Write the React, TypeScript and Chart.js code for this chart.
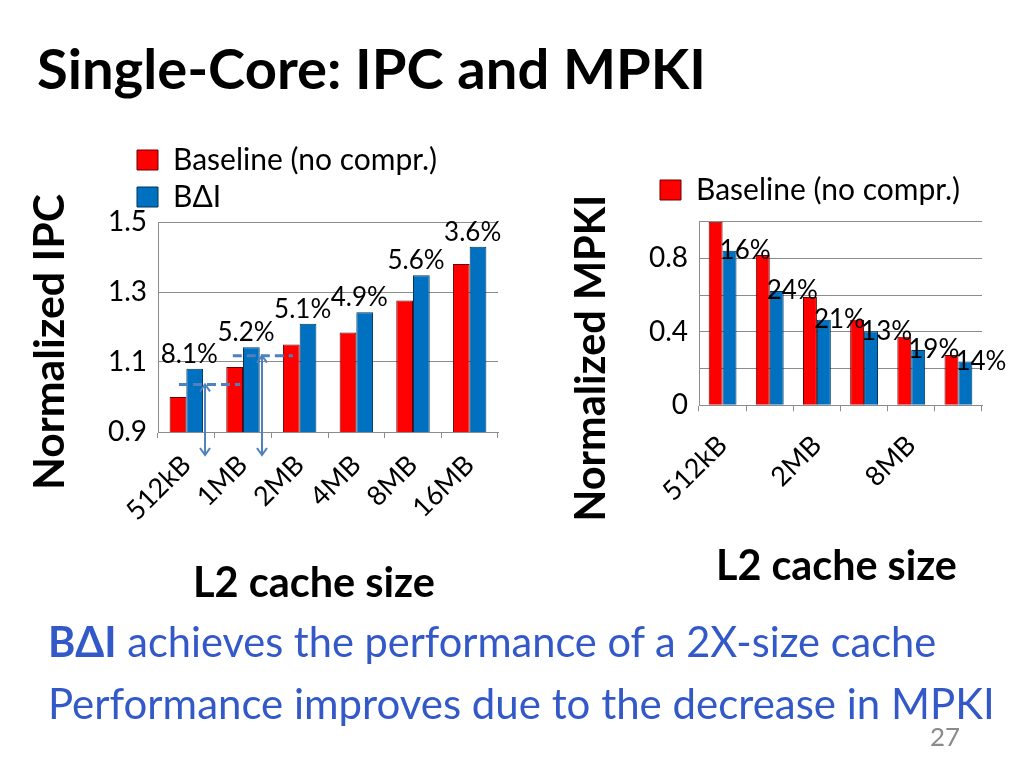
import React, { useEffect, useRef } from 'react';
import { Chart, registerables } from 'chart.js';

Chart.register(...registerables);

// ---------------- data ----------------
const categories = ['512kB', '1MB', '2MB', '4MB', '8MB', '16MB'];
const seriesNames = ['Baseline (no compr.)', 'BΔI'];

const ipcBaseline = [1.0, 1.086, 1.15, 1.184, 1.276, 1.38];
const ipcBDI = [1.081, 1.142, 1.209, 1.242, 1.348, 1.429];
const ipcGainLabels = ['8.1%', '5.2%', '5.1%', '4.9%', '5.6%', '3.6%'];
const ipcTickLabels = [0.9, 1.1, 1.3, 1.5];
const ipcMarkerLevels = [1.036, 1.118];

const mpkiBaseline = [1.0, 0.818, 0.59, 0.466, 0.374, 0.274];
const mpkiBDI = [0.842, 0.622, 0.466, 0.403, 0.301, 0.238];
const mpkiCutLabels = ['16%', '24%', '21%', '13%', '19%', '14%'];
const mpkiTickLabels = [0, 0.4, 0.8];
const mpkiShownCategories = ['512kB', '2MB', '8MB'];

// ---------------- styles ----------------
const FONT = 'Lato';
const RED = '#FF0000';
const RED_EDGE = '#6a0000';
const BLUE = '#0070C0';
const BLUE_EDGE = '#00345a';
const GRID = '#8c8c8c';
const NOTE_BLUE = '#4F81BD';
const TEXT_BLUE = '#3359C8';

// ---------------- text fitting helpers ----------------
const mctx = document.createElement('canvas').getContext('2d') as CanvasRenderingContext2D;
type Part = { t: string; b?: boolean };
function partsWidth(parts: Part[], size: number) {
  let w = 0;
  for (const p of parts) {
    mctx.font = `${p.b ? 'bold ' : ''}${size}px ${FONT}`;
    w += mctx.measureText(p.t).width;
  }
  return w;
}
function fitSize(parts: Part[], width: number) {
  return (100 * width) / partsWidth(parts, 100);
}

function SlideText(props: {
  parts: Part[];
  x: number;
  cy: number;
  width: number;
  color: string;
  rotate?: boolean;
}) {
  const { parts, x, cy, width, color, rotate } = props;
  const fs = fitSize(parts, width);
  const base = 0.358 * fs;
  const spans = parts.map((p, i) => (
    <tspan key={i} fontWeight={p.b ? 'bold' : 'normal'}>
      {p.t}
    </tspan>
  ));
  if (rotate) {
    return (
      <text
        transform={`translate(${x} ${cy}) rotate(-90)`}
        x={-width / 2}
        y={base}
        fontSize={fs}
        fontFamily={FONT}
        fill={color}
        style={{ whiteSpace: 'pre' }}
      >
        {spans}
      </text>
    );
  }
  return (
    <text x={x} y={cy + base} fontSize={fs} fontFamily={FONT} fill={color} style={{ whiteSpace: 'pre' }}>
      {spans}
    </text>
  );
}

// ---------------- chart plugins ----------------
// moves the built-in legend sideways after layout (slide legend sits left of the plot)
const legendShiftPlugin = {
  id: 'legendShift',
  afterLayout(chart: any, _args: any, opts: any) {
    const lg = chart.legend;
    if (lg && opts && opts.dx) {
      lg.left += opts.dx;
      lg.right += opts.dx;
    }
  },
};

const ipcNotesPlugin = {
  id: 'ipcNotes',
  afterDatasetsDraw(chart: any) {
    const { ctx } = chart;
    const xs = chart.scales.x;
    const ys = chart.scales.y;
    const cw = xs.width / categories.length;
    const marks = [
      { from: -0.13, to: 0.95, arrow: 0.33 },
      { from: -0.18, to: 0.88, arrow: 0.335 },
    ];
    const head = (x: number, y: number, dir: number) => {
      ctx.beginPath();
      ctx.moveTo(x - 5, y - dir * 7);
      ctx.lineTo(x, y);
      ctx.lineTo(x + 5, y - dir * 7);
      ctx.stroke();
    };
    ctx.save();
    ipcMarkerLevels.forEach((lvl, i) => {
      const cx = xs.getPixelForValue(i);
      const y = ys.getPixelForValue(lvl);
      const m = marks[i];
      ctx.strokeStyle = NOTE_BLUE;
      ctx.lineWidth = 3;
      ctx.setLineDash([9, 5]);
      ctx.beginPath();
      ctx.moveTo(cx + m.from * cw, y);
      ctx.lineTo(cx + m.to * cw, y);
      ctx.stroke();
      ctx.setLineDash([]);
      ctx.lineWidth = 2;
      const ax = cx + m.arrow * cw;
      const yb = ys.bottom + 23;
      ctx.beginPath();
      ctx.moveTo(ax, y);
      ctx.lineTo(ax, yb);
      ctx.stroke();
      head(ax, y, -1);
      head(ax, yb, 1);
    });
    ctx.restore();
  },
};

const ipcLabelPlugin = {
  id: 'ipcLabels',
  afterDatasetsDraw(chart: any) {
    const { ctx } = chart;
    const meta = chart.getDatasetMeta(1);
    const xs = chart.scales.x;
    ctx.save();
    ctx.font = `26px ${FONT}`;
    ctx.fillStyle = '#000';
    ctx.textAlign = 'center';
    ctx.textBaseline = 'alphabetic';
    ipcGainLabels.forEach((t, i) => {
      const bar = meta.data[i];
      ctx.fillText(t, xs.getPixelForValue(i) + 3, bar.y - 6);
    });
    ctx.restore();
  },
};

const mpkiLabelPlugin = {
  id: 'mpkiLabels',
  afterDatasetsDraw(chart: any) {
    const { ctx } = chart;
    const meta = chart.getDatasetMeta(1);
    ctx.save();
    ctx.font = `26px ${FONT}`;
    ctx.fillStyle = '#000';
    ctx.textAlign = 'left';
    ctx.textBaseline = 'middle';
    mpkiCutLabels.forEach((t, i) => {
      const bar = meta.data[i];
      ctx.fillText(t, bar.x - bar.width / 2 - 3, bar.y);
    });
    ctx.restore();
  },
};

// ---------------- chart configs ----------------
function datasets(a: number[], b: number[]) {
  return [
    { label: seriesNames[0], data: a, backgroundColor: RED, borderColor: RED_EDGE, borderWidth: 1 },
    { label: seriesNames[1], data: b, backgroundColor: BLUE, borderColor: BLUE_EDGE, borderWidth: 1 },
  ];
}

const LEFT = { left: 100, top: 138, w: 410, h: 390, plotBottom: 294 };
const RIGHT = { left: 640, top: 168, w: 380, h: 336, plotBottom: 237.3 };

const legendLabels = {
  font: { family: FONT, size: 30 },
  color: '#000',
  boxWidth: 21,
  boxHeight: 20,
  padding: 7,
};

function ipcConfig(): any {
  return {
    type: 'bar',
    data: { labels: categories, datasets: datasets(ipcBaseline, ipcBDI) },
    options: {
      animation: false,
      responsive: false,
      devicePixelRatio: 1,
      font: { family: FONT },
      layout: { padding: { left: 0, right: 12, top: 0, bottom: 0 } },
      datasets: { bar: { categoryPercentage: 0.59, barPercentage: 1 } },
      plugins: {
        tooltip: { enabled: false },
        title: { display: false },
        legend: {
          position: 'top',
          align: 'start',
          fullSize: false,
          labels: legendLabels,
        },
        legendShift: { dx: -28 },
      },
      scales: {
        x: {
          grid: { offset: true, drawOnChartArea: false, tickLength: 6, color: GRID },
          border: { color: GRID },
          ticks: {
            font: { family: FONT, size: 27 },
            color: '#000',
            minRotation: 45,
            maxRotation: 45,
            autoSkip: false,
            padding: 11,
          },
          afterFit: (s: any) => {
            s.height = LEFT.h - LEFT.plotBottom;
          },
        },
        y: {
          min: 0.9,
          max: 1.5,
          grid: { drawTicks: false, color: GRID },
          border: { color: GRID },
          ticks: {
            stepSize: 0.1,
            font: { family: FONT, size: 28 },
            color: '#000',
            padding: 11,
            callback: (v: number) => {
              const t = ipcTickLabels.find((k) => Math.abs(k - v) < 1e-6);
              return t === undefined ? '' : t.toFixed(1);
            },
          },
          afterFit: (s: any) => {
            s.width = 58;
          },
        },
      },
    },
    plugins: [legendShiftPlugin, ipcNotesPlugin, ipcLabelPlugin],
  };
}

function mpkiConfig(): any {
  return {
    type: 'bar',
    data: { labels: categories, datasets: datasets(mpkiBaseline, mpkiBDI) },
    options: {
      animation: false,
      responsive: false,
      devicePixelRatio: 1,
      font: { family: FONT },
      layout: { padding: { left: 0, right: 38, top: 0, bottom: 0 } },
      datasets: { bar: { categoryPercentage: 0.59, barPercentage: 1 } },
      plugins: {
        tooltip: { enabled: false },
        title: { display: false },
        subtitle: { display: true, text: '', font: { size: 1 }, padding: { top: 0, bottom: 5.5 } },
        legend: {
          position: 'top',
          align: 'start',
          weight: 3000,
          labels: { ...legendLabels, filter: (item: any) => item.datasetIndex === 0 },
        },
        legendShift: { dx: 13 },
      },
      scales: {
        x: {
          grid: { offset: true, drawOnChartArea: false, tickLength: 6, color: GRID },
          border: { color: GRID },
          ticks: {
            font: { family: FONT, size: 27 },
            color: '#000',
            minRotation: 45,
            maxRotation: 45,
            autoSkip: false,
            padding: 18,
            callback: (_v: any, i: number) =>
              mpkiShownCategories.includes(categories[i]) ? categories[i] : '',
          },
          afterFit: (s: any) => {
            s.height = RIGHT.h - RIGHT.plotBottom;
          },
        },
        y: {
          min: 0,
          max: 1.0,
          grid: { drawTicks: false, color: GRID },
          border: { color: GRID },
          ticks: {
            stepSize: 0.2,
            font: { family: FONT, size: 28 },
            color: '#000',
            padding: 11,
            callback: (v: number) => {
              const t = mpkiTickLabels.find((k) => Math.abs(k - v) < 1e-6);
              return t === undefined ? '' : String(t);
            },
          },
          afterFit: (s: any) => {
            s.width = 59;
          },
        },
      },
    },
    plugins: [legendShiftPlugin, mpkiLabelPlugin],
  };
}

function BarPanel(props: { box: { left: number; top: number; w: number; h: number }; make: () => any }) {
  const ref = useRef<HTMLCanvasElement>(null);
  const { box, make } = props;
  useEffect(() => {
    const chart = new Chart(ref.current as HTMLCanvasElement, make());
    return () => chart.destroy();
  }, []);
  return (
    <canvas
      ref={ref}
      width={box.w}
      height={box.h}
      style={{ position: 'absolute', left: box.left, top: box.top, width: box.w, height: box.h }}
    />
  );
}

export default function App() {
  return (
    <div
      style={{
        position: 'absolute',
        left: 0,
        top: 0,
        width: 1024,
        height: 768,
        background: '#fff',
        overflow: 'hidden',
      }}
    >
      <BarPanel box={LEFT} make={ipcConfig} />
      <BarPanel box={RIGHT} make={mpkiConfig} />
      <svg
        width={1024}
        height={768}
        style={{ position: 'absolute', left: 0, top: 0, pointerEvents: 'none' }}
      >
        <SlideText parts={[{ t: 'Single-Core: IPC and MPKI', b: true }]} x={37} cy={69} width={669} color="#000" />
        <SlideText parts={[{ t: 'Normalized IPC', b: true }]} x={49} cy={342} width={296} color="#000" rotate />
        <SlideText parts={[{ t: 'Normalized MPKI', b: true }]} x={590} cy={358} width={327} color="#000" rotate />
        <SlideText parts={[{ t: 'L2 cache size', b: true }]} x={193} cy={582} width={242} color="#000" />
        <SlideText parts={[{ t: 'L2 cache size', b: true }]} x={716} cy={565} width={241} color="#000" />
        <SlideText
          parts={[{ t: 'BΔI', b: true }, { t: ' achieves the performance of a 2X-size cache' }]}
          x={48}
          cy={642}
          width={889}
          color={TEXT_BLUE}
        />
        <SlideText
          parts={[{ t: 'Performance improves due to the decrease in MPKI' }]}
          x={48}
          cy={704}
          width={947}
          color={TEXT_BLUE}
        />
        <SlideText parts={[{ t: '27' }]} x={930} cy={737} width={30} color="#8a8a8a" />
      </svg>
    </div>
  );
}
